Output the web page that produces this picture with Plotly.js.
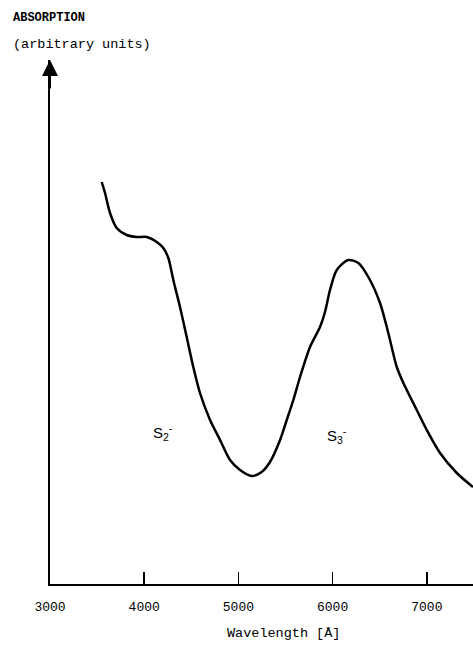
<!DOCTYPE html>
<html>
<head>
<meta charset="utf-8">
<script src="https://cdn.plot.ly/plotly-3.0.1.min.js"></script>
<style>html,body{margin:0;padding:0;background:#fff;}#chart{width:473px;height:645px;}</style>
</head>
<body>
<div id="chart"></div>
<script>
// Wavelength (Å)
var wavelength = [3549,3584,3637,3708,3814,3920,4027,4133,4203,4256,4309,4380,4451,4521,4592,4699,4805,4911,5017,5141,5247,5335,5442,5513,5583,5654,5760,5866,5919,5972,6044,6167,6273,6379,6503,6591,6681,6751,6893,6999,7140,7318,7490];
// Absorption (arbitrary units)
var absorption = [4.02,3.91,3.71,3.56,3.49,3.47,3.47,3.42,3.36,3.26,3.04,2.77,2.47,2.17,1.91,1.64,1.44,1.24,1.14,1.08,1.12,1.22,1.44,1.64,1.84,2.07,2.37,2.57,2.72,2.94,3.14,3.24,3.21,3.07,2.81,2.51,2.17,2.01,1.74,1.54,1.31,1.11,0.97];
var tickValues = [3000,4000,5000,6000,7000];
var tickLabels = ['3000','4000','5000','6000','7000'];

var mono = 'Liberation Mono, Courier New, monospace';

var trace = {
  x: wavelength, y: absorption, type: 'scatter', mode: 'lines',
  line: {color: '#000', width: 2.5, shape: 'spline', smoothing: 0.8},
  hoverinfo: 'skip'
};

var layout = {
  width: 473, height: 645,
  margin: {l: 50, r: 0, t: 60, b: 61},
  paper_bgcolor: '#fff', plot_bgcolor: '#fff',
  showlegend: false,
  xaxis: {
    range: [3000, 7490], showgrid: false, zeroline: false,
    showline: true, linecolor: '#000', linewidth: 2,
    tickmode: 'array', tickvals: tickValues, ticktext: tickLabels,
    ticks: 'inside', ticklen: 12, tickwidth: 1.5, tickcolor: '#000',
    tickfont: {family: mono, size: 13, color: '#000'},
    ticklabelstandoff: 9
  },
  yaxis: {
    range: [0, 5.24], showgrid: false, zeroline: false,
    showline: true, linecolor: '#000', linewidth: 2,
    showticklabels: false, ticks: ''
  },
  annotations: [
    {xref: 'x', yref: 'y', x: 3000, y: 5.24, ax: 0, ay: 30, axref: 'pixel', ayref: 'pixel',
     showarrow: true, arrowhead: 2, arrowsize: 1.6, arrowwidth: 2, arrowcolor: '#000', text: ''},
    {xref: 'paper', yref: 'paper', x: -0.092, y: 1.08, xanchor: 'left', yanchor: 'middle',
     showarrow: false, text: 'ABSORPTION', font: {family: mono, size: 12, color: '#000', weight: 'bold'}},
    {xref: 'paper', yref: 'paper', x: -0.092, y: 1.03, xanchor: 'left', yanchor: 'middle',
     showarrow: false, text: '(arbitrary units)', font: {family: mono, size: 13.5, color: '#000'}},
    {xref: 'paper', yref: 'paper', x: 0.551, y: -0.095, xanchor: 'center', yanchor: 'middle',
     showarrow: false, text: 'Wavelength [Å]', font: {family: mono, size: 13.5, color: '#000'}},
    {xref: 'x', yref: 'y', x: 4200, y: 1.52, showarrow: false,
     text: 'S<sub>2</sub><sup>-</sup>', font: {family: 'Liberation Sans, Arial, sans-serif', size: 15, color: '#000'}},
    {xref: 'x', yref: 'y', x: 6047, y: 1.49, showarrow: false,
     text: 'S<sub>3</sub><sup>-</sup>', font: {family: 'Liberation Sans, Arial, sans-serif', size: 15, color: '#000'}}
  ]
};

Plotly.newPlot('chart', [trace], layout, {displayModeBar: false, staticPlot: true});
</script>
</body>
</html>
